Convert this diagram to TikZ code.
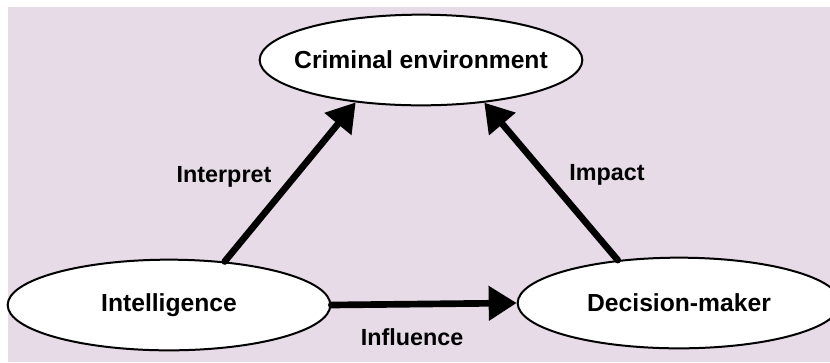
\documentclass[tikz,border=0pt]{standalone}
\usepackage{fontspec}
\setmainfont{Liberation Sans}
\usetikzlibrary{arrows.meta, shapes.geometric}
\definecolor{paper}{RGB}{230,219,230}
\newcommand{\zwbox}[1]{\makebox[0pt]{#1}}
\tikzset{
  bubble/.style={ellipse, draw, line width=1.5pt, fill=white, inner sep=0pt,
    minimum width=242pt, minimum height=68pt,
    font=\fontsize{18.5}{22}\selectfont\bfseries},
  flow/.style={line width=5pt, -{Triangle[length=21pt,width=25pt]}},
  lab/.style={font=\fontsize{17.5}{21}\selectfont\bfseries}
}
\begin{document}
\begin{tikzpicture}[x=0.75pt, y=-0.75pt, line join = round, line cap = round]
\useasboundingbox (0,0) rectangle (830,362);
\fill[white] (0,0) rectangle (830,362);
\fill[paper] (8,7) rectangle (830,362);

\node[bubble] (crime) at (421,60) {\zwbox{Criminal environment}};
\node[bubble] (intel) at (169,305) {\zwbox{Intelligence}};
\node[bubble] (dec) at (679,303) {\zwbox{Decision-maker}};

\draw[flow] (intel.38) -- (crime.213);
\draw[flow] (dec.145) -- (crime.326);
\draw[flow] (intel.east) -- (dec.west);

\node[lab] (interp) at (224,177) {Interpret};
\node[lab] (impact) at (607,175) {Impact};
\node[lab] (infl) at (412,337) {Influence};
\end{tikzpicture}
\end{document}
